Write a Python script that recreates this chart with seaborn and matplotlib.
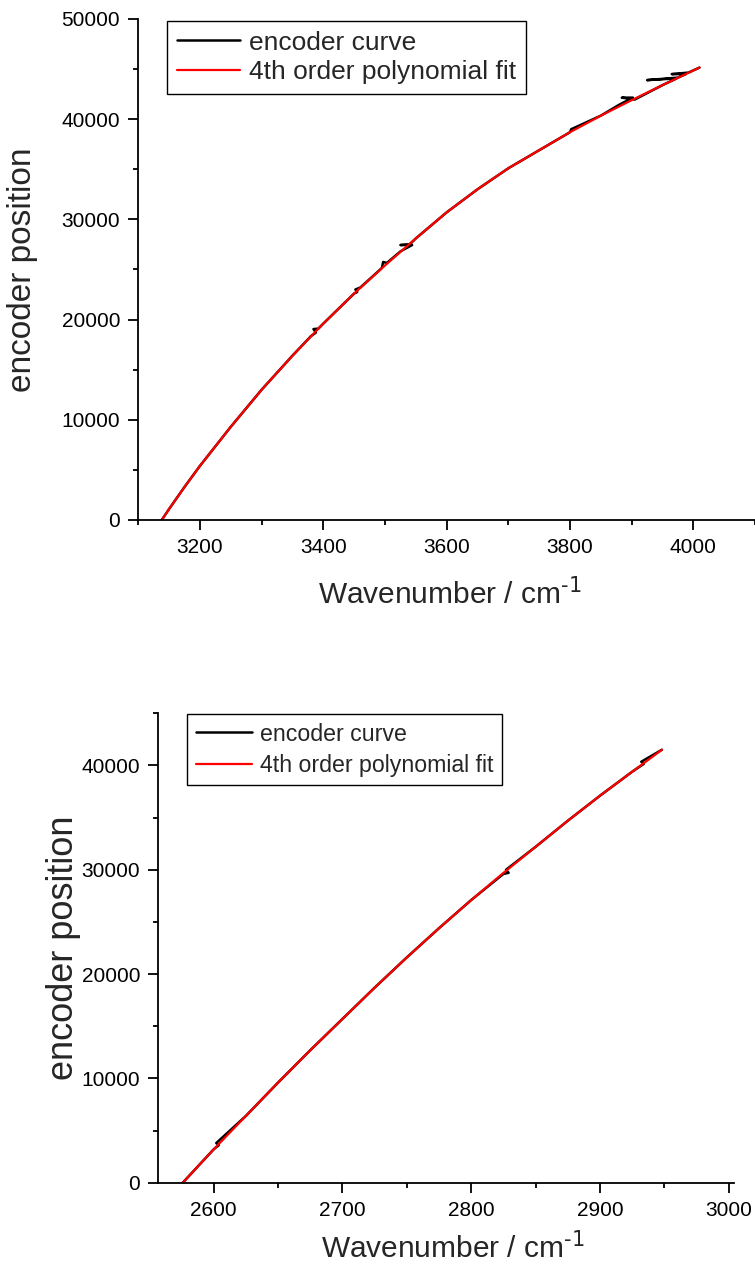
import matplotlib
matplotlib.use('Agg')
from matplotlib import pyplot as plt
from matplotlib.ticker import MultipleLocator
import seaborn as sns

# ---- data ----
legend_labels = ['encoder curve', '4th order polynomial fit']
x_label = r'Wavenumber / cm$^{\text{-1}}$'
y_label = 'encoder position'

# top panel: measured encoder curve (with the small jumps) and the fit
top_wn_curve = [3138, 3150, 3175, 3200, 3250, 3300, 3350, 3380, 3388, 3384, 3392,
                3400, 3450, 3455, 3452, 3460, 3495, 3497, 3503, 3525, 3544, 3525,
                3540, 3550, 3600, 3650, 3700, 3750, 3800, 3802, 3850, 3880, 3902,
                3884, 3905, 3950, 3973, 3925, 3975, 3988, 3965, 3992, 4010]
top_enc_curve = [0, 1100, 3300, 5400, 9300, 13000, 16400, 18350, 18700, 19050, 19100,
                 19600, 22600, 22750, 23000, 23200, 25150, 25750, 25650, 26800, 27440, 27440,
                 27500, 28100, 30700, 33000, 35100, 36900, 38700, 39000, 40350, 41450, 42150,
                 42150, 41960, 43400, 44070, 43900, 44150, 44500, 44500, 44650, 45150]
top_wn_fit = [3138, 3150, 3175, 3200, 3250, 3300, 3350, 3400, 3450, 3500, 3550,
              3600, 3650, 3700, 3750, 3800, 3850, 3900, 3950, 4010]
top_enc_fit = [0, 1100, 3300, 5400, 9300, 13000, 16400, 19600, 22600, 25400, 28100,
               30700, 33000, 35100, 36900, 38700, 40350, 41900, 43400, 45150]

# bottom panel
bot_wn_curve = [2576, 2600, 2604, 2602, 2625, 2650, 2675, 2700, 2725, 2750, 2775,
                2800, 2825, 2829, 2827, 2850, 2875, 2900, 2925, 2934, 2932, 2948]
bot_enc_curve = [0, 3200, 3600, 3800, 6400, 9600, 12700, 15700, 18700, 21600, 24400,
                 27100, 29600, 29700, 30000, 32200, 34700, 37100, 39400, 40150, 40350, 41500]
bot_wn_fit = [2576, 2600, 2625, 2650, 2675, 2700, 2725, 2750, 2775, 2800, 2825,
              2850, 2875, 2900, 2925, 2948]
bot_enc_fit = [0, 3200, 6400, 9600, 12700, 15700, 18700, 21600, 24400, 27100, 29700,
               32200, 34700, 37100, 39400, 41500]

sns.set_style('ticks')
plt.rcParams['font.family'] = ['Liberation Sans', 'DejaVu Sans']
plt.rcParams['mathtext.default'] = 'regular'
plt.rcParams['axes.unicode_minus'] = False

fig = plt.figure(figsize=(7.55, 12.75), dpi=100)
ax1 = fig.add_axes([0.1832, 0.5922, 0.8168, 0.3929])
ax2 = fig.add_axes([0.2097, 0.0724, 0.7625, 0.3682])


def draw_panel(ax, wn_curve, enc_curve, wn_fit, enc_fit):
    sns.lineplot(x=wn_curve, y=enc_curve, sort=False, estimator=None,
                 color='black', lw=1.8, ax=ax, label=legend_labels[0])
    sns.lineplot(x=wn_fit, y=enc_fit, sort=False, estimator=None,
                 color='#ff0000', lw=1.6, ax=ax, label=legend_labels[1])
    sns.despine(ax=ax)
    for side in ['left', 'bottom']:
        ax.spines[side].set_linewidth(1.3)
        ax.spines[side].set_color('black')
    ax.tick_params(which='major', direction='out', length=7, width=1.3,
                   pad=6, labelsize=15, color='black', labelcolor='black')
    ax.tick_params(which='minor', direction='out', length=3.5, width=1.3, color='black')
    ax.grid(False)


draw_panel(ax1, top_wn_curve, top_enc_curve, top_wn_fit, top_enc_fit)
ax1.set_xlim(3100, 4100)
ax1.set_ylim(0, 50000)
ax1.xaxis.set_major_locator(MultipleLocator(200))
ax1.xaxis.set_minor_locator(MultipleLocator(100))
ax1.yaxis.set_major_locator(MultipleLocator(10000))
ax1.yaxis.set_minor_locator(MultipleLocator(5000))
ax1.set_xticks([3200, 3400, 3600, 3800, 4000])
ax1.set_xlabel(x_label, fontsize=21.5, va='center')
ax1.set_ylabel(y_label, fontsize=24, va='center')
ax1.xaxis.set_label_coords(0.505, -0.146)
ax1.yaxis.set_label_coords(-0.188, 0.5)

draw_panel(ax2, bot_wn_curve, bot_enc_curve, bot_wn_fit, bot_enc_fit)
ax2.set_xlim(2557, 3004)
ax2.set_ylim(0, 45000)
ax2.xaxis.set_major_locator(MultipleLocator(100))
ax2.xaxis.set_minor_locator(MultipleLocator(50))
ax2.yaxis.set_major_locator(MultipleLocator(10000))
ax2.yaxis.set_minor_locator(MultipleLocator(5000))
ax2.set_xlabel(x_label, fontsize=21.5, va='center')
ax2.set_ylabel(y_label, fontsize=26, va='center')
ax2.xaxis.set_label_coords(0.512, -0.139)
ax2.yaxis.set_label_coords(-0.164, 0.5)

legend_styles = [(ax1, (0.2208, 0.9838), 19, 0.2, 0.38),
                 (ax2, (0.2481, 0.4402), 16.7, 0.35, 0.38)]
for ax, anchor, size, spacing, pad in legend_styles:
    leg = ax.legend(loc='upper left', bbox_to_anchor=anchor,
                    bbox_transform=fig.transFigure, borderaxespad=0,
                    fontsize=size, frameon=True, fancybox=False, framealpha=1,
                    edgecolor='black', handlelength=2.4, handletextpad=0.35,
                    labelspacing=spacing, borderpad=pad)
    leg.get_frame().set_linewidth(1.0)

fig.savefig('out.png', dpi=100)
